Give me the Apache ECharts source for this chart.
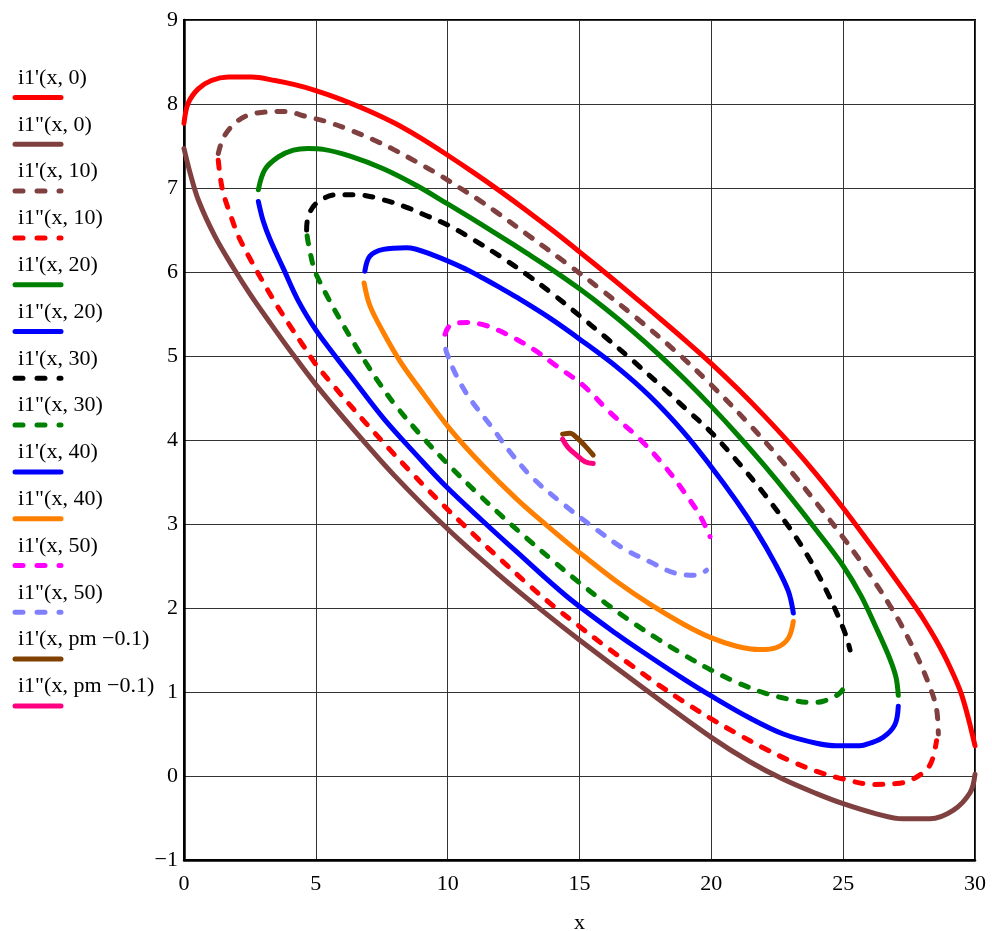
<!DOCTYPE html>
<html>
<head>
<meta charset="utf-8">
<script src="https://cdn.jsdelivr.net/npm/echarts@6/dist/echarts.min.js"></script>
<style>
  html, body { margin: 0; padding: 0; background: #ffffff; }
  #chart { width: 992px; height: 931px; }
</style>
</head>
<body>
<div id="chart"></div>
<script>
// Curve names, colours and dash flags (in legend order)
const curveNames = [
  "i1'(x, 0)", 'i1"(x, 0)',
  "i1'(x, 10)", 'i1"(x, 10)',
  "i1'(x, 20)", 'i1"(x, 20)',
  "i1'(x, 30)", 'i1"(x, 30)',
  "i1'(x, 40)", 'i1"(x, 40)',
  "i1'(x, 50)", 'i1"(x, 50)',
  "i1'(x, pm \u22120.1)", 'i1"(x, pm \u22120.1)'
];
const curveColors = [
  '#ff0000', '#804040',
  '#804040', '#ff0000',
  '#008000', '#0000ff',
  '#000000', '#008000',
  '#0000ff', '#ff8000',
  '#ff00ff', '#8080ff',
  '#804000', '#ff0080'
];
const curveDashed = [
  false, false,
  true, true,
  false, false,
  true, true,
  false, false,
  true, true,
  false, false
];

// Upper / lower branches, [x, i1] pairs
const upper0 = [[0,7.77],[0.16,8.01],[0.54,8.18],[1.04,8.28],[1.68,8.32],[2.56,8.32],[3.45,8.28],[4.2,8.23],[5,8.16],[6,8.05],[7,7.92],[8,7.77],[9,7.59],[10,7.39],[11,7.18],[12,6.96],[13,6.73],[14,6.49],[15,6.24],[16,5.985],[17,5.725],[18,5.46],[19,5.19],[20,4.91],[21,4.61],[22,4.29],[23,3.95],[24,3.585],[25,3.19],[26,2.77],[27,2.34],[27.7,2.03],[28,1.89],[28.5,1.63],[29,1.33],[29.5,0.96],[30,0.36]];
const lower0 = [[0,7.47],[0.23,7.18],[0.54,6.86],[1.18,6.42],[1.87,6.05],[2.5,5.74],[3.3,5.38],[4,5.075],[5,4.66],[6.5,4.1],[8,3.57],[10,2.94],[12,2.38],[13.5,1.99],[15,1.62],[17.5,1.03],[20,0.46],[21.46,0.17],[22.73,-0.04],[23.99,-0.21],[25,-0.33],[26.26,-0.45],[27.28,-0.51],[28.29,-0.51],[29.17,-0.41],[29.81,-0.2],[30,0.02]];

const upper10 = [[1.3,7.41],[1.55,7.63],[2.18,7.83],[2.94,7.9],[3.83,7.91],[4.65,7.85],[5.41,7.79],[6.3,7.69],[7.18,7.575],[7.94,7.46],[8.82,7.31],[9.71,7.15],[10.47,7.0],[11.22,6.85],[11.86,6.71],[13.0,6.45],[14.39,6.13],[15.9,5.77],[17.17,5.45],[18.56,5.08],[19.95,4.67],[21.46,4.18],[22.98,3.64],[24.24,3.15],[25.0,2.84],[25.63,2.57],[26.2,2.31],[26.77,2.03],[27.2,1.8],[27.78,1.44],[28.29,1.06],[28.54,0.8],[28.61,0.5]];
const lower10 = [[1.3,7.33],[1.37,7.14],[1.49,6.94],[1.74,6.7],[2.06,6.43],[2.5,6.16],[3.0,5.88],[3.51,5.61],[4.02,5.36],[4.52,5.125],[5,4.9],[5.66,4.65],[6.3,4.415],[6.93,4.19],[7.81,3.885],[8.57,3.63],[9.2,3.425],[9.83,3.225],[10.47,3.03],[11.22,2.805],[12,2.58],[13,2.295],[14,2.025],[15,1.78],[16,1.54],[17,1.31],[18,1.085],[19,0.875],[20,0.68],[21,0.5],[22,0.33],[23,0.18],[24,0.055],[25,-0.035],[26.14,-0.1],[27.03,-0.09],[27.66,-0.035],[28.29,0.13],[28.54,0.42]];

const upper20 = [[2.82,6.98],[3.07,7.22],[3.58,7.37],[4.15,7.45],[4.7,7.47],[5.28,7.46],[6.3,7.38],[7.56,7.23],[8.82,7.03],[10,6.81],[11,6.62],[12,6.425],[13,6.225],[14,6.02],[15,5.8],[16,5.56],[17,5.3],[18,5.02],[19,4.72],[20,4.4],[21,4.06],[22,3.7],[23,3.32],[24,2.92],[25,2.5],[25.67,2.15],[26.23,1.78],[26.74,1.42],[27.0,1.18],[27.09,0.96]];
const lower20 = [[2.82,6.84],[3.01,6.6],[3.26,6.39],[3.77,6.04],[4.33,5.66],[5,5.31],[5.66,5.03],[6.3,4.77],[7.56,4.26],[8.82,3.82],[9.96,3.44],[11.35,3.03],[12.61,2.67],[14.51,2.14],[16.41,1.69],[17.67,1.42],[18.93,1.16],[19.96,0.96],[21.46,0.69],[22.73,0.5],[23.99,0.39],[24.75,0.36],[25.63,0.36],[26.01,0.39],[26.52,0.46],[26.96,0.61],[27.09,0.83]];

const upper30 = [[4.65,6.5],[4.71,6.66],[5.03,6.82],[5.79,6.92],[6.54,6.92],[7.56,6.86],[8.44,6.77],[9.2,6.67],[10,6.56],[11,6.38],[12,6.185],[13,5.97],[14,5.735],[15,5.48],[16,5.22],[17,4.95],[18,4.67],[19,4.38],[20,4.09],[21,3.74],[22,3.36],[23,2.94],[23.5,2.7],[24,2.43],[24.5,2.12],[24.8,1.91],[25,1.76],[25.15,1.63],[25.26,1.5]];
const lower30 = [[4.67,6.43],[4.71,6.35],[4.9,6.07],[5,5.98],[5.5,5.67],[6,5.39],[6.5,5.125],[7,4.87],[7.5,4.635],[8,4.42],[9,4.05],[10,3.715],[11,3.405],[12,3.11],[13,2.83],[14,2.56],[15,2.3],[16,2.055],[17,1.83],[18,1.625],[19,1.435],[20,1.26],[21,1.11],[22,0.99],[23,0.91],[23.74,0.875],[24.24,0.89],[24.88,0.99],[25.19,1.15]];

const upper40 = [[6.86,6.01],[7.05,6.19],[7.56,6.27],[8.44,6.29],[9.45,6.2],[10.72,6.03],[11.35,5.925],[11.92,5.825],[12.61,5.7],[13.88,5.45],[15.14,5.17],[16.41,4.87],[17.67,4.52],[18.93,4.1],[19.95,3.7],[20.96,3.27],[21.72,2.91],[22.4,2.54],[22.92,2.2],[23.11,1.94]];
const lower40 = [[6.83,5.87],[7.05,5.6],[7.56,5.28],[8.19,4.94],[8.82,4.66],[10.09,4.13],[11.35,3.69],[12.61,3.3],[13.88,2.95],[14.51,2.785],[15.14,2.625],[16.41,2.315],[17.67,2.045],[18.93,1.81],[19.96,1.65],[20.96,1.545],[21.84,1.505],[22.48,1.53],[22.92,1.64],[23.11,1.84]];

const upper50 = [[9.9,5.26],[10.09,5.36],[10.72,5.4],[11.48,5.36],[12.36,5.24],[13.25,5.08],[14.13,4.88],[15.14,4.65],[16.15,4.33],[17.29,4.01],[18.3,3.66],[19.06,3.34],[19.57,3.1],[19.95,2.85]];
const lower50 = [[9.93,5.08],[9.96,5.04],[10.34,4.76],[10.85,4.49],[11.73,4.13],[12.36,3.86],[13.25,3.54],[14.45,3.22],[15.4,2.99],[16.66,2.71],[17.67,2.55],[18.68,2.41],[19.44,2.39],[19.82,2.45]];

const upperPm = [[14.36,4.07],[14.64,4.08],[14.89,4.03],[15.21,3.93],[15.52,3.82]];
const lowerPm = [[14.36,4.01],[14.57,3.91],[14.89,3.82],[15.21,3.74],[15.52,3.72]];

const curveData = [upper0, lower0, upper10, lower10, upper20, lower20, upper30, lower30,
                   upper40, lower40, upper50, lower50, upperPm, lowerPm];

const SERIF = '"Liberation Serif", "Times New Roman", serif';
const DASH = [8, 12];

const chart = echarts.init(document.getElementById('chart'), null, { renderer: 'canvas' });

const series = curveNames.map((name, i) => ({
  name: name,
  type: 'line',
  data: curveData[i],
  showSymbol: false,
  smooth: 0.35,
  clip: true,
  animation: false,
  lineStyle: {
    color: curveColors[i],
    width: 5,
    type: curveDashed[i] ? DASH : 'solid',
    cap: 'round',
    join: 'round'
  },
  z: 2 + i
}));

// Key on the left: label with a line sample beneath it
const keyItems = [];
curveNames.forEach((name, i) => {
  const ty = 78 + 46.8 * i;
  const ly = 97.5 + 46.8 * i;
  keyItems.push({
    type: 'text',
    style: {
      text: name,
      x: 18,
      y: ty,
      font: '22px ' + SERIF,
      fill: '#000',
      verticalAlign: 'middle'
    }
  });
  keyItems.push({
    type: 'line',
    shape: { x1: 15, y1: ly, x2: 61, y2: ly },
    style: {
      stroke: curveColors[i],
      lineWidth: 5,
      lineCap: 'round',
      lineDash: curveDashed[i] ? [8, 14] : null
    }
  });
});

const option = {
  backgroundColor: '#ffffff',
  animation: false,
  grid: {
    left: 184,
    right: 17,
    top: 20,
    bottom: 71,
    outerBoundsMode: 'none',
    containLabel: false,
    show: true,
    borderColor: '#000',
    borderWidth: 2,
    backgroundColor: 'transparent'
  },
  xAxis: {
    type: 'value',
    min: 0,
    max: 30,
    interval: 5,
    name: 'x',
    nameLocation: 'middle',
    nameGap: 52,
    nameTextStyle: { fontFamily: SERIF, fontSize: 22, color: '#000' },
    axisLine: { show: true, onZero: false, lineStyle: { color: '#000', width: 2.5 } },
    axisTick: { show: false },
    axisLabel: { fontFamily: SERIF, fontSize: 22, color: '#000', margin: 13 },
    splitLine: { show: true, lineStyle: { color: '#333', width: 1 } }
  },
  yAxis: {
    type: 'value',
    min: -1,
    max: 9,
    interval: 1,
    axisLine: { show: true, onZero: false, lineStyle: { color: '#000', width: 2.5 } },
    axisTick: { show: false },
    axisLabel: {
      fontFamily: SERIF, fontSize: 22, color: '#000', margin: 6,
      formatter: v => String(v).replace('-', '\u2212')
    },
    splitLine: { show: true, lineStyle: { color: '#333', width: 1 } }
  },
  graphic: keyItems,
  series: series
};

chart.setOption(option);
</script>
</body>
</html>
